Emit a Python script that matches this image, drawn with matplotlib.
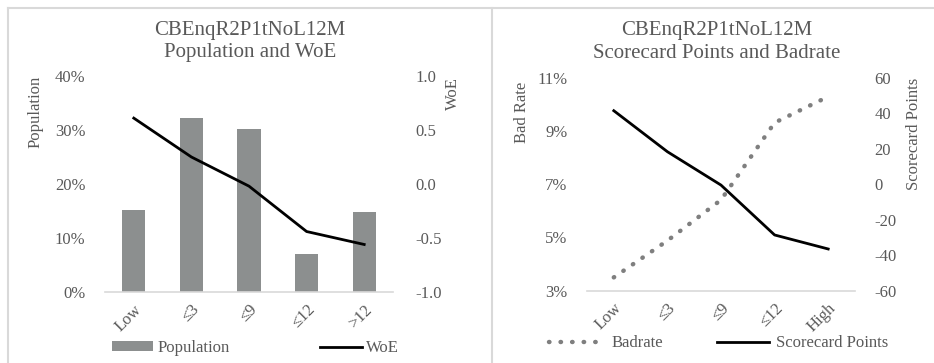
import matplotlib
matplotlib.use("Agg")
import matplotlib.pyplot as plt
from matplotlib.lines import Line2D
from matplotlib.ticker import FuncFormatter

plt.rcParams['font.family'] = ['Liberation Serif', 'DejaVu Serif']
plt.rcParams['axes.unicode_minus'] = False

# data
bins_left = ["Low", "\u22643", "\u22649", "\u226412", ">12"]
population = [15.2, 32.3, 30.1, 7.0, 14.8]
woe = [0.61, 0.25, -0.02, -0.44, -0.56]

bins_right = ["Low", "\u22643", "\u22649", "\u226412", "High"]
badrate = [3.5, 4.88, 6.41, 9.31, 10.29]
points = [41.4, 18.3, -0.5, -28.6, -36.5]

grey_txt = "#595959"
bar_col = "#8c8f8f"
axis_col = "#d9d9d9"
fs = 12
fs_title = 15

W, H = 934, 363
fig = plt.figure(figsize=(W / 100, H / 100), dpi=100)


def box(x0, y0, x1, y1):
    return [x0 / W, 1 - y1 / H, (x1 - x0) / W, (y1 - y0) / H]


def style(ax):
    for s in ["top", "right", "left"]:
        ax.spines[s].set_visible(False)
    ax.spines["bottom"].set_color(axis_col)
    ax.spines["bottom"].set_linewidth(1.2)
    ax.tick_params(length=0, labelsize=fs, colors=grey_txt)
    ax.patch.set_alpha(0)


def leg(handle, label, x0, y0, hl, pad):
    # one legend entry, left edge of handle at pixel x0
    fig.legend([handle], [label], loc="center left", bbox_to_anchor=(x0 / W, 1 - y0 / H),
               frameon=False, fontsize=fs, labelcolor=grey_txt, handlelength=hl,
               handleheight=0.55, handletextpad=pad, borderpad=0, borderaxespad=0)


# ---------------- left chart ----------------
ax1 = fig.add_axes(box(105, 76, 393, 292))
x = range(len(bins_left))
ax1.bar(x, population, width=0.4, color=bar_col, label="Population", zorder=1)
ax1.set_xlim(-0.5, 4.5)
ax1.set_ylim(0, 40)
ax1.set_yticks([0, 10, 20, 30, 40])
ax1.yaxis.set_major_formatter(FuncFormatter(lambda v, p: "%d%%" % v))
ax1.set_xticks(list(x))
ax1.set_xticklabels(bins_left, rotation=45, ha="right", va="top", rotation_mode="anchor")
style(ax1)
ax1.tick_params(axis="y", pad=14)
ax1.tick_params(axis="x", pad=7)

ax1b = ax1.twinx()
ax1b.plot(list(x), woe, color="black", lw=2, label="WoE", zorder=3)
ax1b.set_ylim(-1, 1)
ax1b.set_yticks([-1, -0.5, 0, 0.5, 1])
ax1b.yaxis.set_major_formatter(FuncFormatter(lambda v, p: "%.1f" % v))
style(ax1b)
ax1b.spines["bottom"].set_visible(False)
ax1b.tick_params(axis="y", pad=16)

fig.text(250 / W, 1 - 30 / H, "CBEnqR2P1tNoL12M", ha="center", va="center", fontsize=fs_title, color=grey_txt)
fig.text(250 / W, 1 - 53 / H, "Population and WoE", ha="center", va="center", fontsize=fs_title, color=grey_txt)
fig.text(36 / W, 1 - 112 / H, "Population", rotation=90, ha="center", va="center", fontsize=fs, color=grey_txt)
fig.text(453 / W, 1 - 94 / H, "WoE", rotation=90, ha="center", va="center", fontsize=fs, color=grey_txt)

h1, l1 = ax1.get_legend_handles_labels()
h2, l2 = ax1b.get_legend_handles_labels()
leg(h1[0], l1[0], 112, 348, 2.45, 0.3)
leg(h2[0], l2[0], 320, 348, 2.5, 0.25)

# ---------------- right chart ----------------
ax2 = fig.add_axes(box(587, 77.7, 855, 290.7))
xr = range(len(bins_right))
ax2.plot(list(xr), badrate, color="#7f7f7f", lw=3.2, linestyle=(0, (0.1, 2.5)),
         dash_capstyle="round", label="Badrate", zorder=2)
ax2.set_xlim(-0.5, 4.5)
ax2.set_ylim(3, 11)
ax2.set_yticks([3, 5, 7, 9, 11])
ax2.yaxis.set_major_formatter(FuncFormatter(lambda v, p: "%d%%" % v))
ax2.set_xticks(list(xr))
ax2.set_xticklabels(bins_right, rotation=45, ha="right", va="top", rotation_mode="anchor")
style(ax2)
ax2.tick_params(axis="y", pad=14)
ax2.tick_params(axis="x", pad=7)

ax2b = ax2.twinx()
ax2b.plot(list(xr), points, color="black", lw=2, label="Scorecard Points", zorder=3)
ax2b.set_ylim(-60, 60)
ax2b.set_yticks([-60, -40, -20, 0, 20, 40, 60])
style(ax2b)
ax2b.spines["bottom"].set_visible(False)
ax2b.tick_params(axis="y", pad=14)

fig.text(717 / W, 1 - 30 / H, "CBEnqR2P1tNoL12M", ha="center", va="center", fontsize=fs_title, color=grey_txt)
fig.text(717 / W, 1 - 53 / H, "Scorecard Points and Badrate", ha="center", va="center", fontsize=fs_title, color=grey_txt)
fig.text(522 / W, 1 - 112 / H, "Bad Rate", rotation=90, ha="center", va="center", fontsize=fs, color=grey_txt)
fig.text(914 / W, 1 - 134 / H, "Scorecard Points", rotation=90, ha="center", va="center", fontsize=fs, color=grey_txt)

h3, l3 = ax2.get_legend_handles_labels()
h4, l4 = ax2b.get_legend_handles_labels()
leg(h3[0], l3[0], 549, 343, 3.2, 0.55)
leg(h4[0], l4[0], 717, 343, 3.1, 0.45)

# panel borders
for coords in [((8 / W, 1), (1 - 8 / H, 1 - 8 / H)),
               ((8 / W, 8 / W), (0, 1 - 8 / H)),
               ((492 / W, 492 / W), (0, 1 - 8 / H))]:
    fig.add_artist(Line2D(coords[0], coords[1], color=axis_col, lw=1.5))

fig.savefig("out.png", dpi=100)
